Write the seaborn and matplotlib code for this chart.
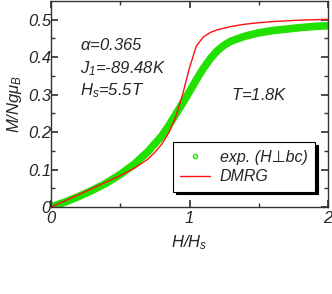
import numpy as np
import pandas as pd
import seaborn as sns
import matplotlib.pyplot as plt
from matplotlib.lines import Line2D

exp_h = [0, 0.1, 0.2, 0.3, 0.4, 0.5, 0.6, 0.7, 0.8, 0.85, 0.9, 0.95, 1.0,
         1.05, 1.1, 1.15, 1.2, 1.25, 1.3, 1.4, 1.5, 1.6, 1.7, 1.8, 1.9, 2.0]
exp_m = [0, 0.013, 0.028, 0.045, 0.064, 0.087, 0.114, 0.148, 0.19, 0.217,
         0.247, 0.277, 0.308, 0.34, 0.37, 0.396, 0.417, 0.432, 0.443, 0.456,
         0.465, 0.471, 0.475, 0.479, 0.482, 0.484]

# DMRG curve
dmrg_h = [0, 0.1, 0.2, 0.3, 0.4, 0.5, 0.6, 0.7, 0.75, 0.8, 0.85, 0.9, 0.95,
          1.0, 1.05, 1.1, 1.15, 1.2, 1.3, 1.4, 1.5, 1.6, 1.8, 2.0]
dmrg_m = [0, 0.016, 0.033, 0.05, 0.067, 0.084, 0.103, 0.128, 0.146, 0.168,
          0.198, 0.24, 0.3, 0.372, 0.43, 0.454, 0.466, 0.473, 0.482, 0.488,
          0.492, 0.495, 0.499, 0.501]

df_exp = pd.DataFrame({'h': exp_h, 'm': exp_m})
df_dmrg = pd.DataFrame({'h': dmrg_h, 'm': dmrg_m})

sns.set_theme(style='ticks')
plt.rcParams['font.family'] = ['Liberation Sans', 'DejaVu Sans']
plt.rcParams['font.style'] = 'italic'
plt.rcParams['mathtext.fontset'] = 'custom'
plt.rcParams['mathtext.it'] = 'Liberation Sans:italic'
plt.rcParams['mathtext.rm'] = 'Liberation Sans:italic'

fig = plt.figure(figsize=(3.32, 2.94), dpi=100)
ax = fig.add_axes([51 / 332, 87 / 294, 277 / 332, 206 / 294])

sns.lineplot(data=df_exp, x='h', y='m', ax=ax, color='#22e000', lw=5.5,
             solid_capstyle='round')
sns.lineplot(data=df_dmrg, x='h', y='m', ax=ax, color='#ff1010', lw=1)

ax.set_xlim(0, 2)
ax.set_ylim(0, 0.55)
ax.set_xticks([0, 1, 2])
ax.set_xticks([0.5, 1.5], minor=True)
ax.set_yticks([0, 0.1, 0.2, 0.3, 0.4, 0.5])
ax.set_yticks(np.arange(0.05, 0.55, 0.1), minor=True)
ax.set_xticklabels(['0', '1', '2'])
ax.set_yticklabels(['0', '0.1', '0.2', '0.3', '0.4', '0.5'])
ax.tick_params(which='both', direction='in', top=True, right=True,
               color='#333333', labelsize=12)
ax.tick_params(which='major', length=5)
ax.tick_params(which='minor', length=3)
ax.tick_params(axis='y', pad=0)
ax.tick_params(axis='x', pad=3)
for s in ax.spines.values():
    s.set_color('#333333')
    s.set_linewidth(1)

ax.set_xlabel('$H/H_s$', fontsize=12, labelpad=5)
ax.set_ylabel('$M/Ng\\mu_B$', fontsize=12, labelpad=3)

ax.text(0.21, 0.418, '$\\alpha$=0.365', fontsize=12)
ax.text(0.21, 0.358, '$J_1$=-89.48K', fontsize=12)
ax.text(0.21, 0.298, '$H_s$=5.5T', fontsize=12)
ax.text(1.30, 0.285, '$T$=1.8K', fontsize=12)

handles = [
    Line2D([], [], ls='none', marker='o', ms=3, mfc='none', mec='#22e000',
           mew=1),
    Line2D([], [], color='#ff1010', lw=1),
]
leg = ax.legend(handles, ['exp. (H\u22a5bc)', 'DMRG'], loc='lower left',
                bbox_to_anchor=(0.44, 0.075), borderaxespad=0, fontsize=11.5,
                fancybox=False, framealpha=1, edgecolor='black',
                handlelength=1.9, handletextpad=0.6, borderpad=0.45,
                labelspacing=0.3,
                shadow={'color': 'black', 'alpha': 1, 'ox': 2, 'oy': -2})
leg.get_frame().set_linewidth(0.8)

fig.savefig('out.png', dpi=100)
